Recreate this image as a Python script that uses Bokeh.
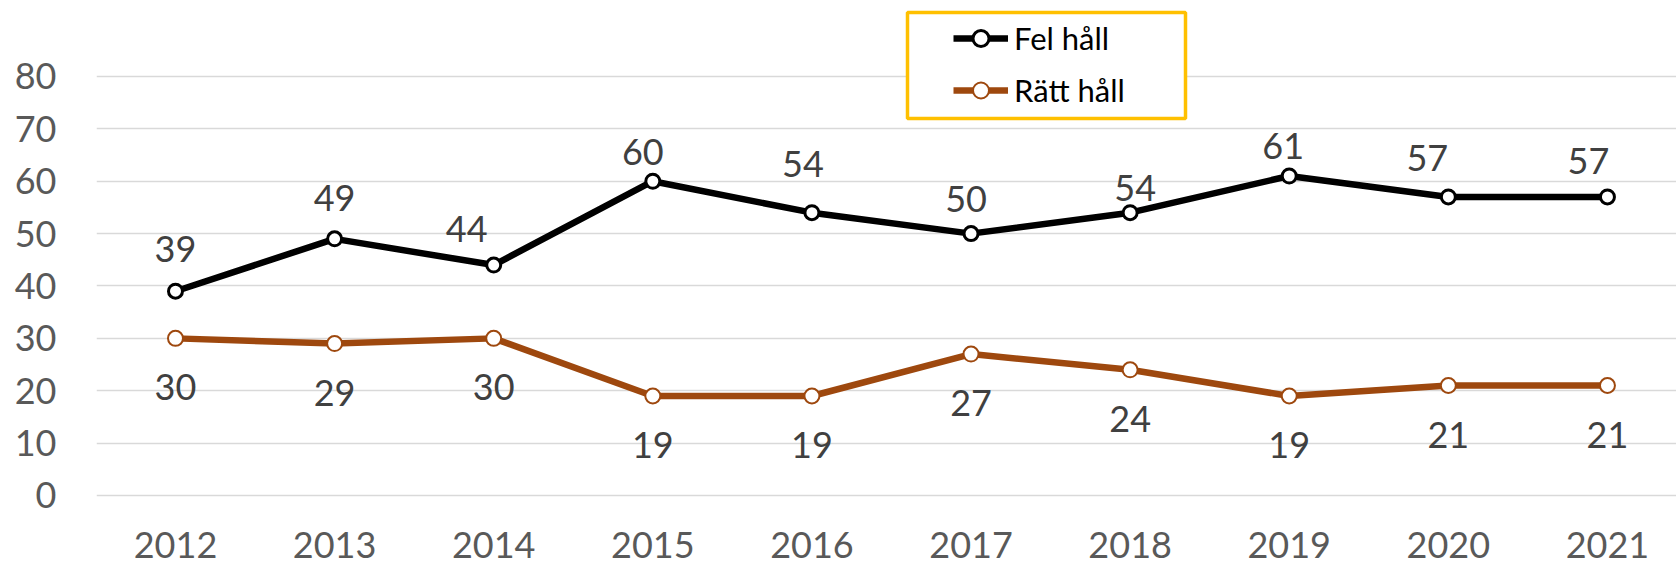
from bokeh.plotting import figure
from bokeh.models import (ColumnDataSource, Range1d, FixedTicker,
                          Legend, LegendItem, BoxAnnotation)
from bokeh.core.properties import value
from bokeh.embed import file_html
from bokeh.resources import INLINE

# ---- data ----
years = [2012, 2013, 2014, 2015, 2016, 2017, 2018, 2019, 2020, 2021]
year_labels = ["2012", "2013", "2014", "2015", "2016", "2017", "2018", "2019", "2020", "2021"]
fel_hall = [39, 49, 44, 60, 54, 50, 54, 61, 57, 57]
ratt_hall = [30, 29, 30, 19, 19, 27, 24, 19, 21, 21]
y_ticks = [0, 10, 20, 30, 40, 50, 60, 70, 80]

# ---- label placement (style, screen px offsets) ----
fel_dx = [0, 0, -27, -10, -9, -5, 5, -6, -21, -19]
fel_dy = [-44, -43, -38, -31, -51, -37, -27, -32, -41, -38]
ratt_dy = 47
year_dy = 50

FONT = value("Lato")
BLACK = "#000000"
BROWN = "#9E480E"
TICK_COL = "#595959"
LABEL_COL = "#404040"

p = figure(width=1676, height=566, output_backend="svg", toolbar_location=None,
           x_range=Range1d(2011.5035, 2021.434), y_range=Range1d(-13.556, 94.51),
           min_border_left=96, min_border_right=0, min_border_top=0,
           min_border_bottom=0, x_axis_location=None)
p.outline_line_color = None
p.background_fill_color = "white"
p.border_fill_color = "white"
p.xgrid.visible = False

p.yaxis.ticker = FixedTicker(ticks=y_ticks)
p.yaxis.axis_line_color = None
p.yaxis.major_tick_line_color = None
p.yaxis.minor_tick_line_color = None
p.yaxis.major_tick_out = 0
p.yaxis.major_tick_in = 0
p.yaxis.major_label_standoff = 40
p.yaxis.major_label_text_font = "Lato"
p.yaxis.major_label_text_font_size = "36px"
p.yaxis.major_label_text_color = TICK_COL
p.ygrid.ticker = FixedTicker(ticks=y_ticks)
p.ygrid.grid_line_color = "#D9D9D9"
p.ygrid.grid_line_width = 1.5

r1l = p.line(years, fel_hall, line_color=BLACK, line_width=6.5, line_join="round")
r1m = p.scatter(years, fel_hall, marker="circle", size=14, fill_color="white",
                line_color=BLACK, line_width=3)
r2l = p.line(years, ratt_hall, line_color=BROWN, line_width=6.5, line_join="round")
r2m = p.scatter(years, ratt_hall, marker="circle", size=15, fill_color="white",
                line_color=BROWN, line_width=2)

src_fel = ColumnDataSource(dict(x=years, y=fel_hall, t=[str(v) for v in fel_hall],
                                dx=fel_dx, dy=[d + 2 for d in fel_dy]))
src_ratt = ColumnDataSource(dict(x=years, y=ratt_hall, t=[str(v) for v in ratt_hall],
                                 dy=[ratt_dy + 2] * len(years)))
p.text(x="x", y="y", text="t", x_offset="dx", y_offset="dy", source=src_fel,
       text_font=FONT, text_font_size="36px", text_color=LABEL_COL,
       text_align="center", text_baseline="middle")
p.text(x="x", y="y", text="t", y_offset="dy", source=src_ratt,
       text_font=FONT, text_font_size="36px", text_color=LABEL_COL,
       text_align="center", text_baseline="middle")

# category (year) labels under the plot area
src_years = ColumnDataSource(dict(x=years, y=[0] * len(years), t=year_labels))
p.text(x="x", y="y", text="t", y_offset=year_dy, source=src_years,
       text_font=FONT, text_font_size="36px", text_color=TICK_COL,
       text_align="center", text_baseline="middle")

box = BoxAnnotation(left=811, right=1089, bottom=448, top=554,
                    left_units="screen", right_units="screen",
                    bottom_units="screen", top_units="screen",
                    fill_color="white", fill_alpha=1.0,
                    line_color="#FFC000", line_alpha=1.0, line_width=3.5)
p.add_layout(box)

legend = Legend(items=[LegendItem(label="Fel håll", renderers=[r1l, r1m]),
                       LegendItem(label="Rätt håll", renderers=[r2l, r2m])],
                location=(850, 449), padding=7, spacing=12, margin=0,
                glyph_width=55, glyph_height=40, label_height=40, label_standoff=6,
                label_text_font="Lato", label_text_font_size="31px",
                label_text_color="#000000",
                border_line_alpha=0, background_fill_alpha=0)
p.add_layout(legend)

open("out.html", "w").write(file_html(p, INLINE))
